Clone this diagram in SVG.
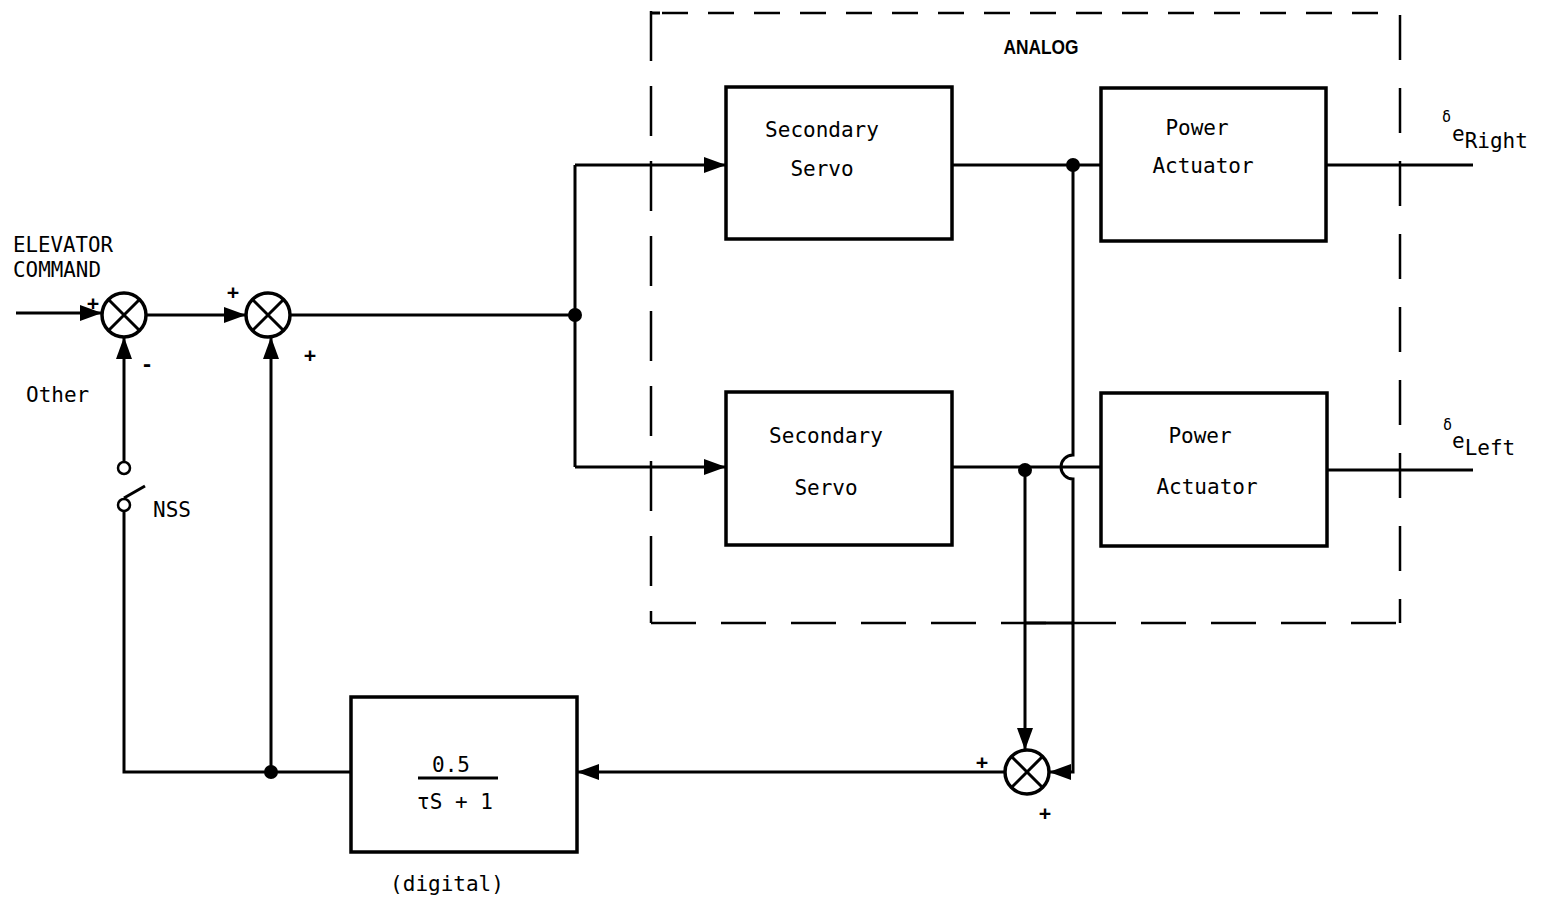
<svg xmlns="http://www.w3.org/2000/svg" width="1547" height="902" viewBox="0 0 1547 902">
<defs>
<marker id="arr" markerUnits="userSpaceOnUse" markerWidth="24" markerHeight="18" refX="22" refY="8" orient="auto">
<path d="M0,0 L22,8 L0,16 Z" fill="#000"/>
</marker>
</defs>
<style>
.ln{stroke:#000;stroke-width:3;fill:none}
.bx{stroke:#000;stroke-width:3.5;fill:#fff}
.dash{stroke:#000;stroke-width:2.5;fill:none;stroke-dasharray:26 20}
.t{font-family:"DejaVu Sans Mono","Liberation Mono",monospace;font-size:21px;fill:#000}
.s{font-family:"DejaVu Sans Mono","Liberation Mono",monospace;font-size:20px;font-weight:bold;fill:#000}
.dot{fill:#000}
</style>
<rect width="1547" height="902" fill="#fff"/>

<g id="analog-boundary">
<path class="dash" d="M662,13 L1398,13"/>
<path class="ln" d="M651,13 L660,13" stroke-width="2.5"/>
<path class="dash" d="M651,11 L651,623" style="stroke-dasharray:50 25"/>
<path class="dash" d="M1400,15 L1400,623" style="stroke-dasharray:45 28"/>
<path class="dash" d="M651,623 L1400,623" style="stroke-dasharray:45 25"/>
<text x="1041" y="54" text-anchor="middle" style="font-family:'Liberation Sans',sans-serif;font-size:20px;font-weight:bold" textLength="75" lengthAdjust="spacingAndGlyphs">ANALOG</text>
</g>

<g id="connectors">
<path class="ln" d="M16,313 L102,313" marker-end="url(#arr)"/>
<path class="ln" d="M146,315 L246,315" marker-end="url(#arr)"/>
<path class="ln" d="M290,315 L575,315"/>
<path class="ln" d="M575,165 L575,467"/>
<path class="ln" d="M575,165 L726,165" marker-end="url(#arr)"/>
<path class="ln" d="M575,467 L726,467" marker-end="url(#arr)"/>
<path class="ln" d="M952,165 L1101,165"/>
<path class="ln" d="M952,467 L1101,467"/>
<path class="ln" d="M1073,165 L1073,455 A12,12 0 0 0 1073,479 L1073,772 L1049,772" marker-end="url(#arr)"/>
<path class="ln" d="M1025,467 L1025,750" marker-end="url(#arr)"/>
<path class="ln" d="M1025,623 L1073,623"/>
<path class="ln" d="M1005,772 L577,772" marker-end="url(#arr)"/>
<path class="ln" d="M351,772 L124,772 L124,512"/>
<path class="ln" d="M124,498 L145,486"/>
<path class="ln" d="M124,461 L124,337" marker-end="url(#arr)"/>
<path class="ln" d="M271,772 L271,337" marker-end="url(#arr)"/>
<path class="ln" d="M1326,165 L1473,165"/>
<path class="ln" d="M1327,470 L1473,470"/>
<circle class="dot" cx="575" cy="315" r="7"/>
<circle class="dot" cx="1073" cy="165" r="7"/>
<circle class="dot" cx="1025" cy="470" r="7"/>
<circle class="dot" cx="271" cy="772" r="7"/>
<circle cx="124" cy="468" r="6" fill="#fff" stroke="#000" stroke-width="2.5"/>
<circle cx="124" cy="505" r="6" fill="#fff" stroke="#000" stroke-width="2.5"/>
</g>

<g id="sum1">
<circle class="bx" cx="124" cy="315" r="22"/>
<path class="ln" d="M108.5,299.5 L139.5,330.5 M139.5,299.5 L108.5,330.5"/>
</g>
<g id="sum2">
<circle class="bx" cx="268" cy="315" r="22"/>
<path class="ln" d="M252.5,299.5 L283.5,330.5 M283.5,299.5 L252.5,330.5"/>
</g>
<g id="sum3">
<circle class="bx" cx="1027" cy="772" r="22"/>
<path class="ln" d="M1011.5,756.5 L1042.5,787.5 M1042.5,756.5 L1011.5,787.5"/>
</g>

<g id="ss-top">
<rect class="bx" x="726" y="87" width="226" height="152"/>
<text class="t" x="822" y="137" text-anchor="middle">Secondary</text>
<text class="t" x="822" y="176" text-anchor="middle">Servo</text>
</g>
<g id="pa-top">
<rect class="bx" x="1101" y="88" width="225" height="153"/>
<text class="t" x="1197" y="135" text-anchor="middle">Power</text>
<text class="t" x="1203" y="173" text-anchor="middle">Actuator</text>
</g>
<g id="ss-bot">
<rect class="bx" x="726" y="392" width="226" height="153"/>
<text class="t" x="826" y="443" text-anchor="middle">Secondary</text>
<text class="t" x="826" y="495" text-anchor="middle">Servo</text>
</g>
<g id="pa-bot">
<rect class="bx" x="1101" y="393" width="226" height="153"/>
<text class="t" x="1200" y="443" text-anchor="middle">Power</text>
<text class="t" x="1207" y="494" text-anchor="middle">Actuator</text>
</g>
<g id="filter">
<rect class="bx" x="351" y="697" width="226" height="155"/>
<text class="t" x="451" y="772" text-anchor="middle">0.5</text>
<path class="ln" d="M418,778 L498,778" stroke-width="2.5"/>
<text class="t" x="455" y="809" text-anchor="middle">τS + 1</text>
<text class="t" x="447" y="891" text-anchor="middle">(digital)</text>
</g>

<g id="labels">
<text class="t" x="13" y="252" textLength="100" lengthAdjust="spacingAndGlyphs">ELEVATOR</text>
<text class="t" x="13" y="277" textLength="88" lengthAdjust="spacingAndGlyphs">COMMAND</text>
<text class="s" x="87" y="310">+</text>
<text class="s" x="141" y="371">-</text>
<text class="s" x="227" y="299">+</text>
<text class="s" x="304" y="362">+</text>
<text class="t" x="26" y="402">Other</text>
<text class="t" x="153" y="517">NSS</text>
<text class="s" x="976" y="769">+</text>
<text class="s" x="1039" y="820">+</text>
<text x="1442" y="122" style="font-family:'DejaVu Sans Mono',monospace;font-size:15px">δ</text>
<text x="1452" y="141" class="t">e<tspan dy="7">Right</tspan></text>
<text x="1443" y="430" style="font-family:'DejaVu Sans Mono',monospace;font-size:15px">δ</text>
<text x="1452" y="448" class="t">e<tspan dy="7">Left</tspan></text>
</g>
</svg>
